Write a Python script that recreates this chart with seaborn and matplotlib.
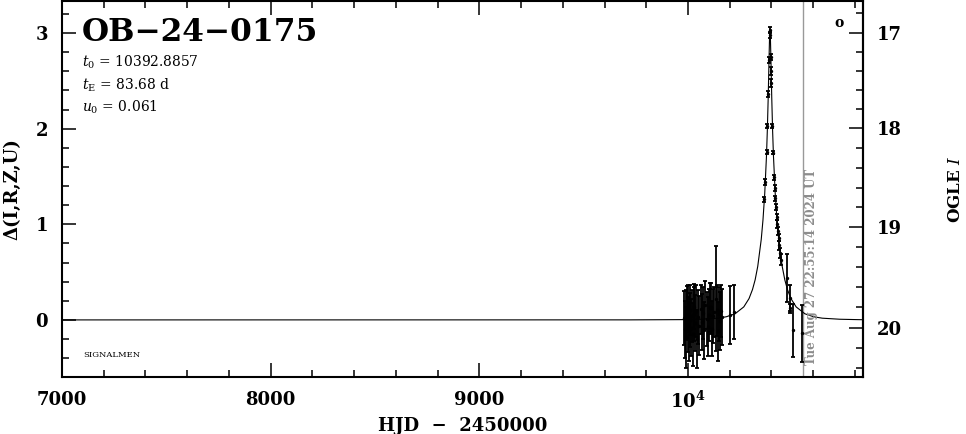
"""
Microlensing light curve for OB-24-0175 (OGLE I band), SIGNALMEN style.
"""

import matplotlib
matplotlib.use("Agg")
import matplotlib.pyplot as plt
from matplotlib.ticker import MultipleLocator, FixedLocator
import numpy as np
import seaborn as sns

# --- data -------------------------------------------------------------------
EVENT_NAME = "OB−24−0175"
T0_TEXT = "10392.8857"
TE_TEXT = "83.68 d"
U0_TEXT = "0.061"
NOW_HJD = 10550.45
NOW_TEXT = "Tue Aug 27 22:55:14 2024 UT"

# model curve (HJD-2450000, delta mag)
model_t = [7000, 9723.5, 9974.5, 10058.2, 10141.8, 10183.7, 10225.5, 10267.4,
           10292.5, 10309.2, 10321.8, 10334.3, 10351.0, 10359.4, 10367.8,
           10376.2, 10380.3, 10384.5, 10388.7, 10391.2, 10392.9, 10394.6,
           10397.1, 10401.3, 10405.4, 10409.6, 10418.0, 10426.4, 10434.7,
           10451.5, 10464.0, 10476.6, 10493.3, 10518.4, 10560.3, 10602.1,
           10643.9, 10727.6, 10811.3, 10840]
model_d = [0.000, 0.0005, 0.003, 0.007, 0.018, 0.033, 0.064, 0.136,
           0.223, 0.318, 0.419, 0.560, 0.841, 1.046, 1.322,
           1.717, 1.987, 2.334, 2.760, 2.983, 3.038, 2.983,
           2.760, 2.334, 1.987, 1.717, 1.322, 1.046, 0.841,
           0.560, 0.419, 0.318, 0.223, 0.136, 0.064, 0.033,
           0.018, 0.007, 0.003, 0.002]

# OGLE photometry: baseline season
base_t = [9982, 9986, 9989, 9992, 9995, 9998, 10001, 10004, 10008, 10011,
          10015, 10019, 10023, 10027, 10031, 10035, 10039, 10044, 10049, 10054,
          10060, 10066, 10071, 10077, 10083, 10089, 10095, 10101, 10107, 10112,
          10117, 10122, 10127, 10133, 10137, 10142, 10147, 10152, 10158, 10163,
          10203, 10219]
base_d = [0.02, -0.10, 0.05, -0.18, 0.08, -0.05, 0.12, -0.12, 0.00, 0.10,
          -0.08, 0.04, -0.15, 0.06, 0.14, -0.03, 0.09, -0.20, 0.03, -0.06,
          0.11, -0.02, 0.07, -0.11, 0.16, 0.01, -0.07, 0.05, 0.13, 0.12,
          -0.09, 0.04, 0.08, 0.22, 0.10, -0.12, 0.06, -0.01, 0.09, 0.03,
          0.05, 0.08]
base_e = [0.28, 0.30, 0.26, 0.32, 0.27, 0.29, 0.25, 0.31, 0.28, 0.26,
          0.30, 0.27, 0.33, 0.28, 0.24, 0.29, 0.27, 0.30, 0.28, 0.31,
          0.26, 0.29, 0.27, 0.30, 0.25, 0.28, 0.31, 0.27, 0.26, 0.27,
          0.29, 0.28, 0.26, 0.55, 0.27, 0.31, 0.28, 0.30, 0.27, 0.29,
          0.30, 0.28]

# OGLE photometry: the event itself
peak_t = [10366, 10371, 10377, 10381, 10385, 10389, 10392, 10394, 10397,
          10398.5, 10400, 10405, 10409, 10413, 10416, 10419, 10422, 10425,
          10428, 10431, 10434, 10438, 10442, 10447, 10473, 10489, 10491,
          10501, 10546]
peak_d = [1.26, 1.44, 1.76, 2.03, 2.36, 2.72, 3.03, 2.98, 2.75,
          2.60, 2.48, 2.03, 1.75, 1.49, 1.38, 1.27, 1.18, 1.08,
          1.00, 0.93, 0.86, 0.78, 0.70, 0.63, 0.44, 0.23, 0.12,
          -0.11, -0.14]
peak_e = [0.03, 0.03, 0.02, 0.02, 0.03, 0.03, 0.03, 0.03, 0.03,
          0.04, 0.04, 0.02, 0.02, 0.03, 0.03, 0.03, 0.03, 0.03,
          0.04, 0.04, 0.04, 0.05, 0.05, 0.06, 0.25, 0.14, 0.05,
          0.28, 0.30]

# calibration between delta mag (left) and OGLE I (right)
calib_d = [-3.0, -0.08, 0.97, 2.005, 3.005, 6.0]
calib_i = [22.78, 20.0, 19.0, 18.0, 17.0, 14.0]

# --- style ------------------------------------------------------------------
sns.set_theme(style="ticks")
plt.rcParams["font.family"] = ["DejaVu Serif", "DejaVu Sans"]
plt.rcParams["mathtext.fontset"] = "dejavuserif"
plt.rcParams["axes.linewidth"] = 1.5
plt.rcParams["axes.edgecolor"] = "black"
plt.rcParams["text.color"] = "black"
plt.rcParams["axes.labelcolor"] = "black"
plt.rcParams["xtick.color"] = "black"
plt.rcParams["ytick.color"] = "black"

fig = plt.figure(figsize=(9.66, 4.34), dpi=100)
ax = fig.add_axes([0.0642, 0.132, 0.8288, 0.8657])

sns.lineplot(x=model_t, y=model_d, ax=ax, color="black", linewidth=0.8,
             sort=False, estimator=None)

all_t = base_t + peak_t
all_d = base_d + peak_d
all_e = base_e + peak_e
ax.errorbar(all_t, all_d, yerr=all_e, fmt="none", ecolor="black",
            elinewidth=1.3, capsize=1.2, capthick=1.3, zorder=3)
sns.scatterplot(x=all_t, y=all_d, ax=ax, color="black", s=6,
                edgecolor="black", linewidth=0, zorder=4)

ax.axvline(NOW_HJD, color="#999999", linewidth=1.0, zorder=1)
ax.annotate(NOW_TEXT, xy=(NOW_HJD, 0.031), xycoords=("data", "axes fraction"),
            xytext=(6.2, 0), textcoords="offset points", rotation=90,
            ha="center", va="bottom", fontsize=8.5, fontweight="bold",
            color="#8c8c8c")

ax.set_xlim(7000, 10837)
ax.set_ylim(-0.594, 3.335)

ax.xaxis.set_major_locator(FixedLocator([7000, 8000, 9000, 10000]))
ax.set_xticklabels(["7000", "8000", "9000", r"$\mathbf{10^4}$"])
ax.xaxis.set_minor_locator(MultipleLocator(200))
ax.yaxis.set_major_locator(MultipleLocator(1))
ax.yaxis.set_minor_locator(MultipleLocator(0.2))

ax.tick_params(axis="both", which="both", direction="in", width=1.1,
               color="black", labelsize=13, pad=10)
ax.tick_params(axis="x", which="both", top=True, bottom=True)
ax.tick_params(axis="y", which="both", left=True, right=False)
ax.tick_params(which="major", length=10)
ax.tick_params(which="minor", length=5)
for lab in ax.get_xticklabels() + ax.get_yticklabels():
    lab.set_fontweight("bold")

ax.set_xlabel("HJD  −  2450000", fontsize=13, fontweight="bold", labelpad=4)
ax.set_ylabel("Δ(I,R,Z,U)", fontsize=13, fontweight="bold", labelpad=10)


def d_to_i(d):
    return np.interp(d, calib_d, calib_i)


def i_to_d(i):
    return np.interp(i, calib_i[::-1], calib_d[::-1])


sec = ax.secondary_yaxis("right", functions=(d_to_i, i_to_d))
sec.yaxis.set_major_locator(FixedLocator([17, 18, 19, 20]))
sec.yaxis.set_minor_locator(FixedLocator(
    [16.8, 17.2, 17.4, 17.6, 17.8, 18.2, 18.4, 18.6, 18.8,
     19.2, 19.4, 19.6, 19.8, 20.2, 20.4]))
sec.tick_params(which="both", direction="in", width=1.1, labelsize=13, pad=10,
                color="black")
sec.tick_params(which="major", length=10)
sec.tick_params(which="minor", length=5)
for lab in sec.get_yticklabels():
    lab.set_fontweight("bold")
sec.set_ylabel(r"OGLE $\mathit{I}$", fontsize=12, fontweight="bold", labelpad=33)
sec.spines["right"].set_linewidth(1.5)

ax.text(0.025, 0.915, EVENT_NAME, transform=ax.transAxes, fontsize=22.5,
        fontweight="bold", va="center", ha="left")
ax.text(0.025, 0.838, r"$t_0$ = " + T0_TEXT, transform=ax.transAxes,
        fontsize=10, va="center", ha="left")
ax.text(0.025, 0.776, r"$t_{\rm E}$ = " + TE_TEXT, transform=ax.transAxes,
        fontsize=10, va="center", ha="left")
ax.text(0.025, 0.718, r"$u_0$ = " + U0_TEXT, transform=ax.transAxes,
        fontsize=10, va="center", ha="left")
ax.text(0.026, 0.058, "SIGNALMEN", transform=ax.transAxes, fontsize=6,
        va="center", ha="left")
ax.text(0.970, 0.941, "o", transform=ax.transAxes, fontsize=10,
        fontweight="bold", va="center", ha="center")

fig.savefig("out.png", dpi=100)
plt.close(fig)
